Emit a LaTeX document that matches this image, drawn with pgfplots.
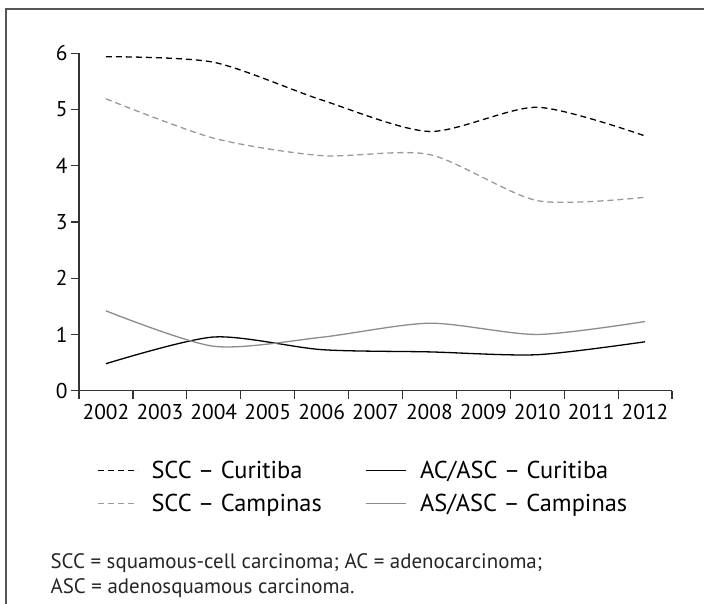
\documentclass[border=0pt]{standalone}
\usepackage{fontspec}
\setmainfont{PT Sans}
\usepackage{pgfplots}
\pgfplotsset{compat=1.18}
\definecolor{axgray}{HTML}{333333}
\definecolor{framegray}{HTML}{555555}
\definecolor{dgray}{HTML}{999999}
\definecolor{sgray}{HTML}{8C8C8C}
\begin{document}
\begin{tikzpicture}[x=1bp,y=1bp]
\useasboundingbox (0,0) rectangle (704,604);
\fill[white] (0,0) rectangle (704,604);
\draw[framegray, line width=1.3bp] (6,0) -- (6,595) -- (704,595);
\begin{axis}[
  at={(79bp,213.3bp)}, anchor=south west, scale only axis,
  width=593bp, height=337.4bp,
  xmin=0, xmax=11, ymin=0, ymax=6,
  axis x line=bottom, axis y line=left,
  axis line style={-, axgray, line width=1.3bp},
  xtick={0,1,2,3,4,5,6,7,8,9,10,11},
  xticklabels={2002,2003,2004,2005,2006,2007,2008,2009,2010,2011,2012},
  x tick label as interval,
  ytick={0,1,2,3,4,5,6},
  tick align=outside, major tick length=8bp,
  tick style={axgray, line width=1.2bp},
  ticklabel style={font=\fontsize{21.5}{25}\selectfont, text=black},
  xticklabel style={yshift=-2bp},
  /pgf/number format/assume math mode=true,
  clip=false,
  legend columns=2,
  legend cell align=left,
  legend style={at={(0.0304,-0.203)}, anchor=north west, draw=none, fill=none,
    inner sep=0pt,
    font=\fontsize{24.5}{28}\selectfont,
    /tikz/every odd column/.append style={column sep=11bp},
    /tikz/every even column/.append style={column sep=42bp},
    row sep=10bp},
  legend image code/.code={\draw[#1] (0bp,0bp) -- (40bp,0bp);},
]
\addplot[black, line width=1.3bp, dash pattern=on 6bp off 4bp, smooth, tension=0.45]
  coordinates {(0.5,5.94) (2.5,5.84) (4.5,5.17) (6.5,4.61) (8.5,5.04) (10.5,4.53)};
\addlegendentry{SCC – Curitiba}
\addplot[black, line width=1.3bp, smooth, tension=0.45]
  coordinates {(0.5,0.48) (2.5,0.955) (4.5,0.73) (6.5,0.69) (8.5,0.64) (10.5,0.87)};
\addlegendentry{AC/ASC – Curitiba}
\addplot[dgray, line width=1.3bp, dash pattern=on 6bp off 4bp, smooth, tension=0.45]
  coordinates {(0.5,5.19) (2.5,4.49) (4.5,4.18) (6.5,4.20) (8.5,3.38) (10.5,3.44)};
\addlegendentry{SCC – Campinas}
\addplot[sgray, line width=1.3bp, smooth, tension=0.45]
  coordinates {(0.5,1.42) (2.5,0.79) (4.5,0.95) (6.5,1.20) (8.5,1.00) (10.5,1.23)};
\addlegendentry{AS/ASC – Campinas}
\end{axis}
\node[anchor=base west, font=\fontsize{21}{24}\selectfont, text=black!85] at (47,35) {SCC = squamous-cell carcinoma; AC = adenocarcinoma;};
\node[anchor=base west, font=\fontsize{21}{24}\selectfont, text=black!85] at (47,10) {ASC = adenosquamous carcinoma.};
\end{tikzpicture}
\end{document}
